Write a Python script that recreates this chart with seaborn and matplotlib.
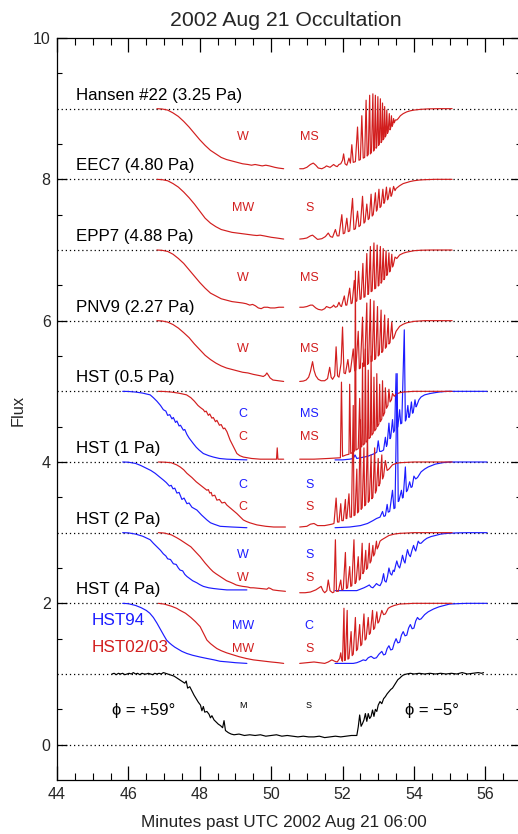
import matplotlib
matplotlib.use("Agg")
import numpy as np
import pandas as pd
import seaborn as sns
import matplotlib.pyplot as plt
from matplotlib.ticker import MultipleLocator, FixedLocator

sns.set_theme(style="ticks")
plt.rcParams["font.family"] = ["Liberation Sans", "DejaVu Sans"]

RED = "#d21e1e"
BLUE = "#1c1cff"
BLACK = "#000000"

# ---------------------------------------------------------------------------
# Light curves: (minutes past 06:00 UTC, normalized flux)
# ---------------------------------------------------------------------------
hansen_in = [(46.8, 1.0), (46.95, 0.995), (47.1, 0.98), (47.25, 0.94), (47.4, 0.89), (47.55, 0.82),
             (47.7, 0.74), (47.85, 0.65), (48.0, 0.56), (48.15, 0.48), (48.3, 0.41), (48.45, 0.36),
             (48.6, 0.31), (48.75, 0.28), (48.9, 0.26), (49.05, 0.24), (49.2, 0.22), (49.35, 0.21),
             (49.45, 0.20), (49.55, 0.21), (49.65, 0.20), (49.75, 0.19), (49.85, 0.20), (49.95, 0.19),
             (50.1, 0.17), (50.2, 0.16), (50.35, 0.15)]
hansen_out = [(50.8, 0.15), (50.9, 0.15), (51.0, 0.17), (51.1, 0.21), (51.18, 0.23), (51.25, 0.20),
              (51.32, 0.16), (51.42, 0.15), (51.5, 0.17), (51.55, 0.19), (51.6, 0.18), (51.65, 0.17),
              (51.7, 0.19), (51.75, 0.21), (51.8, 0.19), (51.85, 0.18), (51.9, 0.21), (51.95, 0.22),
              (52.0, 0.27), (52.03, 0.36), (52.07, 0.22), (52.12, 0.20), (52.18, 0.30), (52.22, 0.23),
              (52.26, 0.49), (52.3, 0.24), (52.36, 0.25), (52.42, 0.74), (52.46, 0.27), (52.5, 0.28),
              (52.54, 0.90), (52.58, 0.30), (52.62, 0.31), (52.66, 1.12), (52.69, 0.33), (52.72, 0.35),
              (52.76, 1.19), (52.78, 0.36), (52.81, 0.38), (52.85, 1.21), (52.87, 0.40), (52.89, 0.42),
              (52.92, 1.19), (52.94, 0.44), (52.96, 0.46), (52.99, 1.17), (53.01, 0.48), (53.03, 0.50),
              (53.06, 1.14), (53.08, 0.52), (53.1, 0.54), (53.12, 1.08), (53.14, 0.56), (53.16, 0.58),
              (53.18, 1.03), (53.2, 0.60), (53.22, 0.63), (53.24, 0.98), (53.26, 0.65), (53.28, 0.68),
              (53.31, 0.93), (53.33, 0.70), (53.35, 0.73), (53.37, 0.90), (53.39, 0.75), (53.41, 0.78),
              (53.43, 0.86), (53.45, 0.80), (53.48, 0.84), (53.52, 0.84), (53.56, 0.86), (53.62, 0.90),
              (53.7, 0.93), (53.8, 0.955), (53.9, 0.97), (54.0, 0.98), (54.18, 0.99), (54.4, 0.997),
              (54.7, 1.0), (55.07, 1.0)]

eec7_in = [(46.8, 1.0), (46.95, 0.995), (47.1, 0.98), (47.25, 0.94), (47.4, 0.89), (47.55, 0.82),
           (47.7, 0.74), (47.85, 0.65), (48.0, 0.55), (48.15, 0.45), (48.3, 0.38), (48.45, 0.33),
           (48.6, 0.29), (48.75, 0.27), (48.9, 0.25), (49.05, 0.24), (49.2, 0.23), (49.35, 0.22),
           (49.5, 0.21), (49.6, 0.205), (49.69, 0.21), (49.8, 0.20), (49.9, 0.19), (50.0, 0.18),
           (50.15, 0.17), (50.35, 0.155)]
eec7_out = [(50.8, 0.155), (50.9, 0.16), (51.0, 0.17), (51.1, 0.20), (51.16, 0.21), (51.23, 0.18),
            (51.3, 0.15), (51.42, 0.16), (51.52, 0.19), (51.6, 0.24), (51.66, 0.19), (51.72, 0.18),
            (51.8, 0.29), (51.85, 0.20), (51.9, 0.20), (51.98, 0.50), (52.02, 0.23), (52.06, 0.24),
            (52.12, 0.45), (52.16, 0.26), (52.2, 0.27), (52.28, 0.73), (52.32, 0.29), (52.36, 0.30),
            (52.42, 0.55), (52.46, 0.33), (52.5, 0.35), (52.56, 0.76), (52.6, 0.38), (52.63, 0.40),
            (52.68, 0.65), (52.72, 0.43), (52.75, 0.45), (52.8, 0.79), (52.83, 0.48), (52.86, 0.50),
            (52.92, 0.81), (52.95, 0.55), (52.97, 0.57), (53.02, 0.86), (53.05, 0.60), (53.08, 0.62),
            (53.13, 0.86), (53.16, 0.66), (53.18, 0.68), (53.23, 0.89), (53.26, 0.71), (53.28, 0.73),
            (53.33, 0.88), (53.36, 0.76), (53.38, 0.78), (53.43, 0.90), (53.47, 0.84), (53.5, 0.87),
            (53.6, 0.91), (53.7, 0.94), (53.8, 0.955), (53.9, 0.97), (54.0, 0.98), (54.15, 0.99),
            (54.3, 0.995), (54.6, 1.0), (55.07, 1.0)]

epp7_in = [(46.8, 1.0), (46.95, 0.995), (47.1, 0.98), (47.25, 0.94), (47.4, 0.88), (47.55, 0.81),
           (47.7, 0.72), (47.85, 0.63), (48.0, 0.54), (48.15, 0.46), (48.3, 0.39), (48.45, 0.35),
           (48.6, 0.31), (48.75, 0.29), (48.9, 0.27), (49.05, 0.26), (49.2, 0.25), (49.3, 0.24),
           (49.4, 0.22), (49.48, 0.23), (49.56, 0.21), (49.64, 0.18), (49.72, 0.17), (49.8, 0.19),
           (49.9, 0.19), (49.98, 0.18), (50.1, 0.18), (50.22, 0.19), (50.35, 0.19)]
epp7_out = [(50.8, 0.19), (50.9, 0.19), (51.0, 0.20), (51.1, 0.22), (51.16, 0.22), (51.25, 0.18),
            (51.32, 0.16), (51.42, 0.15), (51.5, 0.17), (51.55, 0.20), (51.6, 0.19), (51.65, 0.18),
            (51.72, 0.20), (51.75, 0.22), (51.8, 0.19), (51.85, 0.20), (51.9, 0.26), (51.94, 0.21),
            (51.97, 0.20), (52.05, 0.35), (52.09, 0.22), (52.12, 0.22), (52.2, 0.46), (52.24, 0.24),
            (52.27, 0.25), (52.33, 0.57), (52.37, 0.27), (52.4, 0.28), (52.45, 0.70), (52.49, 0.30),
            (52.52, 0.31), (52.57, 0.81), (52.6, 0.33), (52.63, 0.34), (52.68, 0.95), (52.71, 0.37),
            (52.73, 0.38), (52.78, 1.05), (52.8, 0.41), (52.83, 0.42), (52.88, 1.10), (52.9, 0.45),
            (52.93, 0.46), (52.97, 1.07), (53.0, 0.49), (53.02, 0.50), (53.06, 1.05), (53.08, 0.53),
            (53.1, 0.55), (53.14, 1.02), (53.16, 0.58), (53.18, 0.60), (53.22, 0.99), (53.24, 0.64),
            (53.26, 0.66), (53.3, 0.96), (53.32, 0.69), (53.34, 0.71), (53.38, 0.94), (53.4, 0.76),
            (53.42, 0.78), (53.47, 0.90), (53.52, 0.88), (53.6, 0.93), (53.7, 0.955), (53.8, 0.97),
            (53.9, 0.98), (54.0, 0.99), (54.2, 0.997), (54.5, 1.0), (55.07, 1.0)]

pnv9_in = [(46.8, 1.0), (46.95, 0.995), (47.1, 0.98), (47.25, 0.945), (47.4, 0.895), (47.55, 0.83),
           (47.7, 0.76), (47.85, 0.67), (48.0, 0.59), (48.15, 0.51), (48.3, 0.45), (48.45, 0.40),
           (48.6, 0.36), (48.75, 0.33), (48.9, 0.31), (49.05, 0.29), (49.2, 0.27), (49.35, 0.26),
           (49.5, 0.24), (49.6, 0.23), (49.7, 0.22), (49.78, 0.21), (49.84, 0.23), (49.88, 0.26),
           (49.92, 0.23), (49.97, 0.19), (50.05, 0.16), (50.2, 0.15), (50.35, 0.14)]
pnv9_out = [(50.8, 0.14), (50.9, 0.145), (50.98, 0.16), (51.05, 0.20), (51.1, 0.28), (51.16, 0.42),
            (51.2, 0.30), (51.25, 0.22), (51.32, 0.17), (51.4, 0.15), (51.5, 0.15), (51.58, 0.18),
            (51.64, 0.34), (51.68, 0.20), (51.72, 0.17), (51.78, 0.22), (51.82, 0.63), (51.86, 0.22),
            (51.9, 0.20), (51.96, 0.40), (52.0, 0.91), (52.04, 0.26), (52.08, 0.25), (52.15, 0.45),
            (52.19, 0.27), (52.22, 0.28), (52.3, 0.60), (52.34, 0.29), (52.37, 0.30), (52.44, 0.85),
            (52.47, 0.32), (52.5, 0.33), (52.56, 1.05), (52.59, 0.35), (52.62, 0.36), (52.68, 1.25),
            (52.7, 0.38), (52.73, 0.40), (52.78, 1.30), (52.8, 0.42), (52.83, 0.43), (52.88, 1.28),
            (52.9, 0.45), (52.93, 0.47), (52.98, 1.20), (53.0, 0.50), (53.03, 0.52), (53.08, 1.15),
            (53.1, 0.55), (53.13, 0.57), (53.18, 1.08), (53.2, 0.61), (53.23, 0.63), (53.28, 1.03),
            (53.3, 0.67), (53.33, 0.69), (53.38, 0.98), (53.41, 0.74), (53.44, 0.76), (53.5, 0.85),
            (53.6, 0.92), (53.7, 0.95), (53.8, 0.97), (54.0, 0.99), (54.3, 1.0), (55.07, 1.0)]

hst05_blue_in = [(45.84, 1.0), (46.0, 0.998), (46.2, 0.99), (46.4, 0.975), (46.61, 0.95), (46.7, 0.91),
                 (46.8, 0.86), (46.9, 0.80), (46.98, 0.74), (47.05, 0.72), (47.1, 0.66), (47.16, 0.67),
                 (47.22, 0.61), (47.26, 0.63), (47.32, 0.56), (47.36, 0.58), (47.42, 0.51), (47.46, 0.52),
                 (47.54, 0.45), (47.58, 0.46), (47.64, 0.39), (47.7, 0.34), (47.76, 0.30), (47.82, 0.26),
                 (47.9, 0.21), (47.98, 0.17), (48.1, 0.12), (48.25, 0.09), (48.38, 0.07), (48.55, 0.05),
                 (48.76, 0.04), (49.0, 0.035), (49.32, 0.03)]
hst05_red_in = [(46.84, 1.0), (47.0, 0.998), (47.2, 0.99), (47.4, 0.975), (47.5, 0.965), (47.63, 0.95),
                (47.75, 0.91), (47.85, 0.86), (47.95, 0.80), (48.02, 0.77), (48.1, 0.74), (48.14, 0.71),
                (48.18, 0.72), (48.24, 0.66), (48.28, 0.68), (48.34, 0.62), (48.38, 0.63), (48.44, 0.57),
                (48.48, 0.59), (48.55, 0.52), (48.6, 0.53), (48.66, 0.47), (48.7, 0.48), (48.76, 0.43),
                (48.85, 0.31), (48.94, 0.22), (49.04, 0.12), (49.12, 0.09), (49.22, 0.07), (49.45, 0.05),
                (49.69, 0.04), (49.9, 0.04), (50.15, 0.04), (50.17, 0.20), (50.19, 0.04), (50.35, 0.04)]
hst05_red_out = [(50.8, 0.04), (51.2, 0.04), (51.6, 0.05), (51.94, 0.06), (51.97, 1.13), (52.0, 0.08),
                 (52.1, 0.10), (52.18, 0.11), (52.2, 1.10), (52.23, 0.12), (52.3, 0.14), (52.34, 0.16),
                 (52.36, 2.70), (52.38, 0.17), (52.44, 0.19), (52.48, 0.90), (52.51, 0.21), (52.54, 0.22),
                 (52.56, 1.40), (52.58, 0.24), (52.62, 0.26), (52.64, 1.60), (52.66, 0.28), (52.7, 0.30),
                 (52.72, 1.30), (52.74, 0.33), (52.78, 0.35), (52.8, 1.50), (52.82, 0.38), (52.86, 0.41),
                 (52.88, 1.20), (52.9, 0.44), (52.94, 0.47), (52.96, 1.25), (52.98, 0.50), (53.02, 0.54),
                 (53.04, 1.10), (53.06, 0.57), (53.1, 0.61), (53.12, 1.15), (53.14, 0.65), (53.18, 0.70),
                 (53.2, 1.05), (53.23, 0.76), (53.27, 0.80), (53.3, 1.03), (53.33, 0.85), (53.37, 0.88),
                 (53.4, 0.97), (53.45, 0.93), (53.5, 0.96), (53.6, 0.98), (53.7, 0.99), (54.0, 1.0),
                 (54.5, 1.0), (55.07, 1.0)]
hst05_blue_out = [(51.79, 0.03), (52.0, 0.03), (52.2, 0.04), (52.3, 0.05), (52.35, 0.10), (52.4, 0.05),
                  (52.5, 0.06), (52.7, 0.08), (52.9, 0.12), (52.96, 0.14), (53.0, 0.30), (53.04, 0.15),
                  (53.08, 0.15), (53.12, 0.16), (53.15, 0.17), (53.2, 0.35), (53.23, 0.22), (53.25, 0.25),
                  (53.3, 0.55), (53.33, 0.33), (53.35, 0.35), (53.4, 0.60), (53.43, 0.42), (53.46, 0.45),
                  (53.5, 1.25), (53.53, 0.48), (53.55, 0.50), (53.6, 0.74), (53.63, 0.54), (53.66, 0.55),
                  (53.73, 1.87), (53.76, 0.58), (53.78, 0.60), (53.83, 0.80), (53.86, 0.63), (53.88, 0.65),
                  (53.93, 0.85), (53.96, 0.69), (53.98, 0.70), (54.03, 0.88), (54.06, 0.78), (54.08, 0.80),
                  (54.14, 0.88), (54.2, 0.92), (54.3, 0.95), (54.46, 0.97), (54.7, 0.99), (54.93, 1.0),
                  (55.5, 1.0), (56.05, 1.0)]

hst1_blue_in = [(45.84, 1.0), (46.0, 0.997), (46.2, 0.98), (46.35, 0.95), (46.51, 0.91), (46.63, 0.88),
                (46.75, 0.84), (46.87, 0.79), (46.98, 0.745), (47.06, 0.71), (47.15, 0.66), (47.2, 0.67),
                (47.25, 0.62), (47.3, 0.63), (47.36, 0.56), (47.42, 0.57), (47.5, 0.47), (47.56, 0.49),
                (47.64, 0.41), (47.7, 0.42), (47.78, 0.36), (47.85, 0.34), (47.92, 0.32), (48.05, 0.25),
                (48.2, 0.18), (48.3, 0.14), (48.4, 0.12), (48.57, 0.09), (48.9, 0.08), (49.32, 0.07)]
hst1_red_in = [(46.84, 1.0), (47.0, 0.998), (47.2, 0.99), (47.35, 0.96), (47.45, 0.93), (47.55, 0.89),
               (47.64, 0.84), (47.78, 0.78), (47.9, 0.72), (48.05, 0.66), (48.2, 0.60), (48.24, 0.61),
               (48.28, 0.56), (48.32, 0.57), (48.35, 0.52), (48.42, 0.53), (48.48, 0.46), (48.55, 0.47),
               (48.62, 0.42), (48.7, 0.43), (48.76, 0.39), (48.9, 0.33), (49.04, 0.27), (49.12, 0.23),
               (49.22, 0.18), (49.3, 0.16), (49.4, 0.14), (49.6, 0.11), (49.85, 0.09), (50.07, 0.08),
               (50.4, 0.08)]
hst1_red_out = [(50.8, 0.08), (51.0, 0.09), (51.1, 0.12), (51.2, 0.13), (51.3, 0.10), (51.5, 0.10),
                (51.6, 0.11), (51.7, 0.12), (51.76, 0.13), (51.82, 0.49), (51.86, 0.15), (51.9, 0.15),
                (51.95, 0.41), (51.98, 0.17), (52.02, 0.17), (52.08, 0.47), (52.1, 0.20), (52.12, 0.20),
                (52.18, 0.55), (52.21, 0.22), (52.25, 0.22), (52.3, 1.80), (52.32, 0.24), (52.35, 0.25),
                (52.4, 0.90), (52.42, 0.28), (52.45, 0.30), (52.5, 1.60), (52.52, 0.33), (52.55, 0.35),
                (52.6, 1.20), (52.62, 0.38), (52.65, 0.40), (52.7, 1.40), (52.72, 0.43), (52.75, 0.45),
                (52.8, 1.10), (52.82, 0.48), (52.85, 0.50), (52.9, 1.20), (52.92, 0.56), (52.95, 0.60),
                (53.0, 1.05), (53.02, 0.66), (53.05, 0.70), (53.1, 1.10), (53.12, 0.76), (53.15, 0.80),
                (53.2, 1.02), (53.25, 0.88), (53.3, 0.90), (53.4, 0.96), (53.5, 0.98), (53.6, 0.99),
                (54.0, 1.0), (55.07, 1.0)]
hst1_blue_out = [(51.79, 0.07), (52.0, 0.075), (52.2, 0.08), (52.5, 0.10), (52.7, 0.13), (52.85, 0.17),
                 (52.95, 0.20), (53.05, 0.22), (53.12, 0.30), (53.16, 0.23), (53.2, 0.24), (53.25, 0.40),
                 (53.28, 0.29), (53.32, 0.30), (53.4, 0.60), (53.44, 0.34), (53.47, 0.35), (53.53, 2.25),
                 (53.56, 0.44), (53.58, 0.45), (53.65, 0.60), (53.68, 0.49), (53.7, 0.50), (53.76, 0.93),
                 (53.79, 0.58), (53.82, 0.60), (53.88, 0.72), (53.92, 0.64), (53.95, 0.65), (54.0, 0.80),
                 (54.05, 0.76), (54.1, 0.78), (54.2, 0.86), (54.3, 0.90), (54.4, 0.93), (54.6, 0.97),
                 (54.8, 0.99), (55.0, 1.0), (56.05, 1.0)]

hst2_blue_in = [(45.84, 1.0), (46.0, 0.997), (46.2, 0.98), (46.4, 0.95), (46.61, 0.90), (46.7, 0.85),
                (46.8, 0.80), (46.9, 0.75), (46.98, 0.70), (47.05, 0.67), (47.1, 0.63), (47.18, 0.62),
                (47.26, 0.56), (47.34, 0.55), (47.4, 0.50), (47.45, 0.47), (47.52, 0.46), (47.58, 0.41),
                (47.64, 0.38), (47.72, 0.35), (47.8, 0.32), (47.92, 0.29), (48.0, 0.265), (48.1, 0.24),
                (48.25, 0.22), (48.38, 0.21), (48.55, 0.20), (48.76, 0.19), (49.0, 0.19), (49.32, 0.19)]
hst2_red_in = [(46.84, 1.0), (47.0, 0.995), (47.2, 0.97), (47.35, 0.93), (47.45, 0.90), (47.6, 0.85),
               (47.75, 0.80), (47.88, 0.73), (48.01, 0.66), (48.15, 0.57), (48.29, 0.49), (48.37, 0.45),
               (48.45, 0.42), (48.57, 0.38), (48.66, 0.35), (48.75, 0.32), (48.85, 0.30), (48.94, 0.28),
               (49.02, 0.26), (49.1, 0.25), (49.2, 0.24), (49.28, 0.235), (49.35, 0.23), (49.42, 0.22),
               (49.5, 0.22), (49.6, 0.215), (49.7, 0.21), (49.8, 0.205), (49.88, 0.20), (49.93, 0.22),
               (49.98, 0.21), (50.05, 0.19), (50.2, 0.18), (50.4, 0.17)]
hst2_red_out = [(50.8, 0.15), (50.95, 0.15), (51.1, 0.16), (51.25, 0.19), (51.4, 0.24), (51.45, 0.18),
                (51.5, 0.15), (51.56, 0.18), (51.6, 0.33), (51.65, 0.18), (51.72, 0.15), (51.76, 0.16),
                (51.8, 0.90), (51.83, 0.17), (51.88, 0.17), (51.95, 0.33), (51.98, 0.19), (52.02, 0.20),
                (52.08, 0.72), (52.11, 0.21), (52.14, 0.22), (52.2, 0.52), (52.23, 0.24), (52.26, 0.25),
                (52.32, 0.90), (52.35, 0.28), (52.38, 0.30), (52.44, 0.66), (52.47, 0.33), (52.5, 0.35),
                (52.55, 0.85), (52.57, 0.42), (52.6, 0.45), (52.65, 0.75), (52.67, 0.48), (52.7, 0.50),
                (52.75, 0.85), (52.77, 0.57), (52.8, 0.60), (52.85, 0.82), (52.87, 0.67), (52.9, 0.70),
                (52.95, 0.88), (52.97, 0.77), (53.0, 0.80), (53.05, 0.88), (53.1, 0.90), (53.2, 0.93),
                (53.3, 0.96), (53.45, 0.98), (53.6, 0.99), (54.0, 1.0), (55.07, 1.0)]
hst2_blue_out = [(51.79, 0.18), (52.1, 0.18), (52.4, 0.18), (52.5, 0.20), (52.6, 0.22), (52.68, 0.24),
                 (52.75, 0.26), (52.8, 0.23), (52.85, 0.22), (52.92, 0.26), (52.95, 0.28), (53.0, 0.26),
                 (53.05, 0.25), (53.1, 0.30), (53.15, 0.42), (53.18, 0.32), (53.22, 0.30), (53.26, 0.38),
                 (53.3, 0.50), (53.34, 0.42), (53.38, 0.40), (53.42, 0.47), (53.45, 0.45), (53.48, 0.52),
                 (53.52, 0.60), (53.56, 0.53), (53.6, 0.50), (53.64, 0.58), (53.68, 0.68), (53.72, 0.60),
                 (53.75, 0.57), (53.78, 0.66), (53.82, 0.76), (53.86, 0.69), (53.9, 0.66), (53.94, 0.74),
                 (53.99, 0.82), (54.02, 0.77), (54.05, 0.74), (54.08, 0.80), (54.12, 0.88), (54.16, 0.85),
                 (54.2, 0.85), (54.28, 0.89), (54.36, 0.92), (54.48, 0.945), (54.6, 0.96), (54.75, 0.98),
                 (54.93, 0.99), (55.2, 0.997), (55.5, 1.0), (56.05, 1.0)]

hst4_blue_in = [(45.84, 1.0), (46.0, 0.995), (46.2, 0.97), (46.35, 0.94), (46.5, 0.90), (46.6, 0.86),
                (46.7, 0.80), (46.8, 0.72), (46.9, 0.63), (47.0, 0.54), (47.07, 0.48), (47.15, 0.44),
                (47.22, 0.41), (47.3, 0.38), (47.4, 0.35), (47.5, 0.32), (47.64, 0.29), (47.8, 0.265),
                (48.01, 0.24), (48.2, 0.22), (48.4, 0.20), (48.57, 0.18), (48.8, 0.17), (49.0, 0.16),
                (49.32, 0.15)]
hst4_red_in = [(46.84, 1.0), (47.0, 0.99), (47.2, 0.96), (47.35, 0.93), (47.45, 0.90), (47.6, 0.86),
               (47.75, 0.80), (47.88, 0.74), (48.01, 0.67), (48.1, 0.58), (48.2, 0.48), (48.3, 0.43),
               (48.4, 0.39), (48.48, 0.36), (48.6, 0.33), (48.75, 0.30), (48.94, 0.27), (49.1, 0.245),
               (49.3, 0.22), (49.5, 0.20), (49.75, 0.185), (50.0, 0.17), (50.2, 0.16), (50.35, 0.15)]
hst4_red_out = [(50.8, 0.15), (51.0, 0.16), (51.2, 0.17), (51.35, 0.16), (51.5, 0.15), (51.6, 0.17),
                (51.7, 0.20), (51.78, 0.18), (51.85, 0.17), (51.92, 0.22), (51.95, 0.30), (51.98, 0.19),
                (52.0, 0.18), (52.04, 0.93), (52.06, 0.19), (52.08, 0.20), (52.13, 0.90), (52.15, 0.21),
                (52.18, 0.22), (52.24, 0.60), (52.27, 0.26), (52.3, 0.28), (52.36, 0.80), (52.39, 0.33),
                (52.42, 0.35), (52.48, 0.70), (52.51, 0.40), (52.54, 0.42), (52.6, 0.85), (52.63, 0.48),
                (52.66, 0.50), (52.72, 0.80), (52.75, 0.56), (52.78, 0.58), (52.84, 0.90), (52.87, 0.63),
                (52.9, 0.65), (52.96, 0.88), (52.99, 0.72), (53.02, 0.74), (53.1, 0.90), (53.15, 0.84),
                (53.2, 0.85), (53.28, 0.93), (53.35, 0.95), (53.45, 0.97), (53.6, 0.99), (54.0, 1.0),
                (55.07, 1.0)]
hst4_blue_out = [(51.79, 0.15), (52.0, 0.15), (52.3, 0.15), (52.4, 0.16), (52.5, 0.18), (52.58, 0.20),
                 (52.65, 0.19), (52.72, 0.23), (52.8, 0.25), (52.88, 0.22), (52.95, 0.23), (53.02, 0.28),
                 (53.1, 0.32), (53.15, 0.27), (53.2, 0.28), (53.25, 0.36), (53.3, 0.40), (53.35, 0.34),
                 (53.4, 0.35), (53.45, 0.44), (53.5, 0.50), (53.55, 0.44), (53.6, 0.45), (53.65, 0.55),
                 (53.7, 0.60), (53.75, 0.54), (53.8, 0.55), (53.85, 0.65), (53.9, 0.70), (53.95, 0.64),
                 (54.0, 0.65), (54.05, 0.75), (54.1, 0.80), (54.15, 0.77), (54.2, 0.78), (54.3, 0.84),
                 (54.4, 0.88), (54.55, 0.92), (54.7, 0.95), (54.85, 0.97), (55.0, 0.99), (55.3, 0.997),
                 (55.5, 1.0), (56.05, 1.0)]

observed = [(45.54, 1.00), (45.6, 1.01), (45.66, 0.99), (45.72, 1.01), (45.78, 1.00), (45.84, 1.01),
            (45.9, 0.99), (45.96, 1.00), (46.02, 1.01), (46.08, 1.00), (46.14, 1.02), (46.2, 1.00),
            (46.26, 1.01), (46.32, 0.99), (46.38, 1.01), (46.44, 1.00), (46.5, 1.00), (46.56, 1.01),
            (46.62, 1.00), (46.68, 0.99), (46.74, 1.01), (46.8, 1.00), (46.86, 1.01), (46.92, 1.00),
            (46.98, 1.02), (47.04, 1.01), (47.1, 1.00), (47.16, 0.99), (47.22, 0.98), (47.28, 0.97),
            (47.34, 0.95), (47.4, 0.93), (47.46, 0.91), (47.52, 0.89), (47.58, 0.87), (47.62, 0.90),
            (47.66, 0.80), (47.72, 0.82), (47.78, 0.76), (47.84, 0.70), (47.9, 0.65), (47.96, 0.60),
            (48.02, 0.56), (48.06, 0.48), (48.1, 0.54), (48.14, 0.46), (48.2, 0.47), (48.26, 0.43),
            (48.3, 0.38), (48.34, 0.41), (48.4, 0.35), (48.46, 0.32), (48.52, 0.29), (48.58, 0.27),
            (48.64, 0.24), (48.68, 0.34), (48.72, 0.20), (48.8, 0.17), (48.88, 0.15), (48.96, 0.14),
            (49.1, 0.15), (49.25, 0.13), (49.4, 0.14), (49.55, 0.13), (49.7, 0.14), (49.85, 0.12),
            (50.0, 0.13), (50.15, 0.14), (50.3, 0.12), (50.45, 0.13), (50.6, 0.12), (50.75, 0.11),
            (50.9, 0.12), (51.05, 0.11), (51.2, 0.11), (51.35, 0.12), (51.5, 0.10), (51.65, 0.11),
            (51.8, 0.12), (51.95, 0.11), (52.1, 0.12), (52.25, 0.13), (52.4, 0.13), (52.44, 0.25),
            (52.48, 0.42), (52.52, 0.26), (52.56, 0.30), (52.6, 0.35), (52.64, 0.44), (52.68, 0.33),
            (52.72, 0.44), (52.76, 0.37), (52.8, 0.40), (52.84, 0.49), (52.88, 0.40), (52.92, 0.50),
            (52.96, 0.47), (53.0, 0.56), (53.05, 0.61), (53.1, 0.58), (53.15, 0.65), (53.2, 0.68),
            (53.25, 0.72), (53.3, 0.75), (53.35, 0.78), (53.4, 0.80), (53.45, 0.84), (53.5, 0.88),
            (53.55, 0.92), (53.6, 0.94), (53.66, 0.97), (53.72, 0.99), (53.8, 1.00), (53.9, 1.01),
            (54.0, 1.00), (54.15, 1.01), (54.3, 1.00), (54.45, 1.01), (54.6, 1.00), (54.75, 1.01),
            (54.9, 1.00), (55.05, 1.01), (55.2, 1.00), (55.35, 1.02), (55.5, 1.00), (55.65, 1.01),
            (55.8, 1.02), (55.9, 1.01), (55.95, 1.02)]

# Panel names, vertical offsets and regime tags (immersion, emersion)
panel_names = ["Hansen #22 (3.25 Pa)", "EEC7 (4.80 Pa)", "EPP7 (4.88 Pa)", "PNV9 (2.27 Pa)",
               "HST (0.5 Pa)", "HST (1 Pa)", "HST (2 Pa)", "HST (4 Pa)"]
panel_offsets = [8, 7, 6, 5, 4, 3, 2, 1]
red_tags_in = ["W", "MW", "W", "W", "C", "C", "W", "MW"]
red_tags_out = ["MS", "S", "MS", "MS", "MS", "S", "S", "S"]
blue_tags_in = [None, None, None, None, "C", "C", "W", "MW"]
blue_tags_out = [None, None, None, None, "MS", "S", "S", "C"]

red_curves = [(hansen_in, hansen_out), (eec7_in, eec7_out), (epp7_in, epp7_out), (pnv9_in, pnv9_out),
              (hst05_red_in, hst05_red_out), (hst1_red_in, hst1_red_out), (hst2_red_in, hst2_red_out),
              (hst4_red_in, hst4_red_out)]
blue_curves = [None, None, None, None, (hst05_blue_in, hst05_blue_out), (hst1_blue_in, hst1_blue_out),
               (hst2_blue_in, hst2_blue_out), (hst4_blue_in, hst4_blue_out)]

# ---------------------------------------------------------------------------
# Assemble every trace into one long table
# ---------------------------------------------------------------------------
rows = []
seg = 0
for k, off in enumerate(panel_offsets):
    for pair, col in ((blue_curves[k], BLUE), (red_curves[k], RED)):
        if pair is None:
            continue
        for part in pair:
            for t, f in part:
                rows.append((seg, col, t, off + f))
            seg += 1
for t, f in observed:
    rows.append((seg, BLACK, t, f))
traces = pd.DataFrame(rows, columns=["seg", "color", "minutes", "flux"])

W, H = 518, 834
fig = plt.figure(figsize=(W / 100, H / 100), dpi=100)
ax = fig.add_axes([57 / W, (H - 780) / H, 464 / W, 742 / H])

# dotted reference levels
for lvl in range(0, 10):
    ax.axhline(lvl, color="black", lw=0.9, ls=(0, (1, 2.3)), zorder=1)

for s, sub in traces.groupby("seg", sort=True):
    sns.lineplot(data=sub, x="minutes", y="flux", color=sub["color"].iloc[0], lw=0.85,
                 sort=False, estimator=None, ax=ax, zorder=3)

# panel captions and regime tags
for k, off in enumerate(panel_offsets):
    ax.text(44.52, off + 1.19, panel_names[k], fontsize=12.2, color="black", va="center", ha="left")
    if blue_tags_in[k] is None:
        ax.text(49.21, off + 0.6, red_tags_in[k], fontsize=9, color=RED, ha="center", va="center")
        ax.text(51.07, off + 0.6, red_tags_out[k], fontsize=9, color=RED, ha="center", va="center")
    else:
        ax.text(49.21, off + 0.68, blue_tags_in[k], fontsize=9, color=BLUE, ha="center", va="center")
        ax.text(51.07, off + 0.68, blue_tags_out[k], fontsize=9, color=BLUE, ha="center", va="center")
        ax.text(49.21, off + 0.36, red_tags_in[k], fontsize=9, color=RED, ha="center", va="center")
        ax.text(51.07, off + 0.36, red_tags_out[k], fontsize=9, color=RED, ha="center", va="center")

ax.text(44.98, 1.76, "HST94", fontsize=12.3, color=BLUE, ha="left", va="center")
ax.text(44.98, 1.37, "HST02/03", fontsize=12.3, color=RED, ha="left", va="center")
ax.text(49.21, 0.55, "M", fontsize=6.5, color="black", ha="center", va="center")
ax.text(51.05, 0.55, "S", fontsize=6.5, color="black", ha="center", va="center")
ax.text(45.53, 0.49, "\u03d5 = +59\u00b0", fontsize=12, color="black", ha="left", va="center")
ax.text(53.76, 0.49, "\u03d5 = \u22125\u00b0", fontsize=12, color="black", ha="left", va="center")

ax.set_xlim(44, 57)
ax.set_ylim(-0.5, 10)
ax.xaxis.set_major_locator(MultipleLocator(2))
ax.xaxis.set_minor_locator(MultipleLocator(0.5))
ax.yaxis.set_major_locator(FixedLocator([0, 2, 4, 6, 8, 10]))
ax.yaxis.set_minor_locator(FixedLocator([0.5 + i for i in range(10)]))
ax.tick_params(axis="x", which="major", direction="in", length=10, width=0.9, top=True,
               labelsize=11.5, pad=5, color="black")
ax.tick_params(axis="x", which="minor", direction="in", length=5, width=0.8, top=True, color="black")
ax.tick_params(axis="y", which="major", direction="in", length=7, width=0.9, right=True,
               labelsize=11.5, pad=4.5, color="black")
ax.tick_params(axis="y", which="minor", direction="in", length=3.8, width=0.8, right=True, color="black")
for sp in ax.spines.values():
    sp.set_color("black")
    sp.set_linewidth(0.9)
ax.set_xlabel("")
ax.set_ylabel("")
ax.set_facecolor("white")
fig.patch.set_facecolor("white")

fig.text(285.5 / W, 1 - 20 / H, "2002 Aug 21 Occultation", fontsize=15.3, ha="center", va="center")
fig.text(283.5 / W, 1 - 822 / H, "Minutes past UTC 2002 Aug 21 06:00", fontsize=12.3,
         color="#222222", ha="center", va="center")
fig.text(18 / W, 1 - 410 / H, "Flux", fontsize=11.8, rotation=90, ha="center", va="center")

fig.savefig("out.png", dpi=100, facecolor="white")
